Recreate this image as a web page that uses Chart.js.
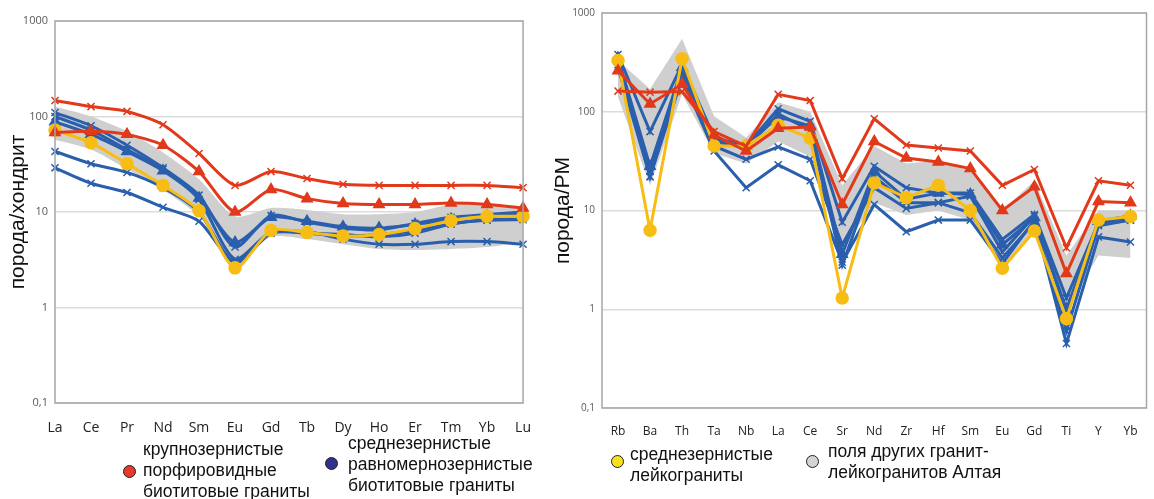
<!DOCTYPE html>
<html>
<head>
<meta charset="utf-8">
<script src="https://cdn.jsdelivr.net/npm/chart.js@4.4.0/dist/chart.umd.min.js"></script>
<style>
  body { margin: 0; background: #fff; width: 1154px; height: 499px; position: relative; overflow: hidden; font-family: "Liberation Sans", Arial, sans-serif; }
  #left { position: absolute; left: 0; top: 0; }
  #right { position: absolute; left: 545px; top: 0; }
  .leg { position: absolute; font-size: 17.5px; line-height: 21px; color: #111; white-space: nowrap; }
  .dot { position: absolute; width: 11px; height: 11px; border-radius: 50%; border: 1.5px solid #222; }
</style>
</head>
<body>
<canvas id="left" width="540" height="440"></canvas>
<canvas id="right" width="609" height="440"></canvas>

<span class="dot" style="left:123px;top:465px;background:#e8392a"></span>
<div class="leg" style="left:143px;top:439px">крупнозернистые<br>порфировидные<br>биотитовые граниты</div>
<span class="dot" style="left:325px;top:457px;background:#2e3192"></span>
<div class="leg" style="left:348px;top:433px">среднезернистые<br>равномернозернистые<br>биотитовые граниты</div>
<span class="dot" style="left:611px;top:455px;background:#f7e01c"></span>
<div class="leg" style="left:630px;top:444px">среднезернистые<br>лейкограниты</div>
<span class="dot" style="left:806px;top:455px;background:#d3d3d3"></span>
<div class="leg" style="left:828px;top:441px">поля других гранит-<br>лейкогранитов Алтая</div>

<script>
var reeLabels = ["La", "Ce", "Pr", "Nd", "Sm", "Eu", "Gd", "Tb", "Dy", "Ho", "Er", "Tm", "Yb", "Lu"];
var pmLabels = ["Rb", "Ba", "Th", "Ta", "Nb", "La", "Ce", "Sr", "Nd", "Zr", "Hf", "Sm", "Eu", "Gd", "Ti", "Y", "Yb"];
var yTicks = [0.1, 1, 10, 100, 1000];

// REE / chondrite
var reeRedX = [147, 127, 113, 82, 41, 19, 26.5, 22.4, 19.5, 19, 19, 19, 19, 18];
var reeRedTri = [68, 70, 65, 50, 26.5, 10, 17.2, 13.8, 12.3, 12, 12, 12.4, 12, 11];
var reeBlue1 = [110, 80, 50, 29, 15, 4.3, 9.2, 7.8, 6.8, 6.5, 7.6, 8.8, 9.4, 10];
var reeBlue2 = [88, 65, 43, 27, 14, 4.8, 8.8, 8, 7, 6.8, 7.4, 8.4, 9, 9.5];
var reeBlue3 = [100, 72, 45, 28, 13.5, 3.2, 6.2, 6, 5.8, 5.5, 6, 7.5, 8.2, 8.3];
var reeBlue4 = [43, 32, 26, 18, 10, 2.9, 6, 6, 5.6, 5.8, 6.4, 7.5, 8.3, 8.5];
var reeBlue5 = [29, 20, 16, 11.2, 8, 3, 6, 6.2, 5.2, 4.6, 4.6, 4.9, 4.9, 4.6];
var reeYellow = [72, 53, 32, 19, 10.3, 2.6, 6.4, 6.1, 5.6, 5.8, 6.7, 8.1, 9, 9];
var reeFieldHi = [127, 100, 70, 42, 22, 9, 11, 10.5, 9.5, 9.5, 10, 12, 12, 11.5];
var reeFieldLo = [57, 45, 28, 17, 9, 2.9, 5.5, 5.2, 4.6, 4.1, 4, 4.1, 4.3, 4.8];

// multi-element / primitive mantle
var pmRedX = [162, 158, 160, 63, 45, 150, 130, 21, 85, 46, 43, 40, 18, 26, 4.2, 20, 18];
var pmRedTri = [260, 120, 190, 58, 40, 68, 70, 11.5, 50, 34, 31, 26.6, 10, 17.4, 2.3, 12.3, 12];
var pmBlue1 = [380, 63, 300, 55, 45, 107, 80, 7.6, 28, 17, 15, 15, 5.1, 9.1, 1.3, 7.5, 8.5];
var pmBlue2 = [350, 28, 280, 52, 45, 89, 72, 3.6, 25, 13, 15, 14.5, 4.5, 8.5, 1.0, 7.8, 8.8];
var pmBlue3 = [330, 22, 260, 50, 43, 95, 65, 2.8, 22, 12, 12, 14, 3.8, 8.8, 0.9, 7.2, 8];
var pmBlue4 = [300, 25, 220, 45, 33, 44, 33, 4.5, 17, 10.5, 12, 9.5, 3.3, 7.6, 0.6, 7, 8];
var pmBlue5 = [280, 22, 220, 40, 17, 29, 20, 3, 11.5, 6.1, 8, 8, 2.9, 8, 0.45, 5.4, 4.8];
var pmYellow = [330, 6.3, 345, 45, 45, 73, 54, 1.3, 19, 13.5, 18, 10, 2.6, 6.2, 0.8, 8, 8.7];
var pmFieldHi = [330, 170, 550, 90, 55, 125, 100, 18, 45, 30, 32, 25, 10, 20, 3.5, 10, 10];
var pmFieldLo = [140, 18, 150, 38, 30, 50, 35, 4, 12, 9, 10, 8, 2.6, 6, 1.0, 3.5, 3.3];

var RED = "#e2391b";
var BLUE = "#2a5fad";
var YELLOW = "#f7bd14";
var GREY = "#cfcfcf";

function line(data, color, style, order, tension) {
  return {
    data: data,
    borderColor: color,
    backgroundColor: color,
    borderWidth: 3,
    pointStyle: style,
    pointRadius: style == "crossRot" ? 5 : 6,
    pointBorderWidth: 1.5,
    pointBackgroundColor: color,
    pointBorderColor: color,
    fill: false,
    tension: tension,
    order: order,
  };
}

function field(hi, lo, tension) {
  return [
    { data: hi, borderWidth: 0, pointRadius: 0, backgroundColor: GREY, fill: "+1", tension: tension, order: 10 },
    { data: lo, borderWidth: 0, pointRadius: 0, backgroundColor: GREY, fill: false, tension: tension, order: 10 },
  ];
}

var boxPlugin = {
  id: "box",
  afterDraw: function (chart) {
    var a = chart.chartArea;
    var ctx = chart.ctx;
    ctx.save();
    ctx.strokeStyle = "#a6a6a6";
    ctx.lineWidth = 1.5;
    ctx.strokeRect(a.left, a.top, a.right - a.left, a.bottom - a.top);
    ctx.restore();
  },
};

function makeOptions(opt) {
  return {
    responsive: false,
    animation: false,
    devicePixelRatio: 1,
    layout: { padding: { top: opt.top, right: opt.right, left: 0, bottom: 0 } },
    plugins: { legend: { display: false }, tooltip: { enabled: false } },
    scales: {
      x: {
        type: "category",
        offset: opt.offset,
        grid: { display: false },
        border: { display: false },
        ticks: {
          autoSkip: false,
          maxRotation: 0,
          padding: opt.xPad,
          color: "#222",
          font: { family: "Open Sans", size: opt.xSize },
        },
        afterFit: function (s) { s.height = opt.xH; },
      },
      y: {
        type: "logarithmic",
        min: 0.1,
        max: 1000,
        afterBuildTicks: function (s) {
          s.ticks = yTicks.map(function (v) { return { value: v }; });
        },
        grid: { color: "#dcdcdc", lineWidth: 1.5, drawTicks: false },
        border: { display: false },
        ticks: {
          padding: 7,
          color: "#595959",
          font: { family: "Open Sans", size: opt.ySize },
          callback: function (v) { return String(v).replace(".", ","); },
        },
        title: {
          display: true,
          text: opt.title,
          color: "#111",
          font: { family: "Liberation Sans", size: 21 },
          padding: { top: opt.titlePad, bottom: 0 },
        },
        afterFit: function (s) { s.width = opt.yW; },
      },
    },
  };
}

var t1 = 0.25;
new Chart(document.getElementById("left"), {
  type: "line",
  data: {
    labels: reeLabels,
    datasets: field(reeFieldHi, reeFieldLo, t1).concat([
      line(reeBlue5, BLUE, "crossRot", 4, t1),
      line(reeBlue4, BLUE, "crossRot", 4, t1),
      line(reeBlue3, BLUE, "crossRot", 4, t1),
      line(reeBlue1, BLUE, "crossRot", 4, t1),
      line(reeBlue2, BLUE, "triangle", 3, t1),
      line(reeYellow, YELLOW, "circle", 2, t1),
      line(reeRedTri, RED, "triangle", 1, t1),
      line(reeRedX, RED, "crossRot", 1, t1),
    ]),
  },
  options: makeOptions({ top: 21, right: 12, offset: false, xSize: 14, ySize: 11, xH: 37, xPad: 9, yW: 55, title: "порода/хондрит", titlePad: 6 }),
  plugins: [boxPlugin],
});

new Chart(document.getElementById("right"), {
  type: "line",
  data: {
    labels: pmLabels,
    datasets: field(pmFieldHi, pmFieldLo, 0).concat([
      line(pmBlue5, BLUE, "crossRot", 4, 0),
      line(pmBlue4, BLUE, "crossRot", 4, 0),
      line(pmBlue3, BLUE, "crossRot", 4, 0),
      line(pmBlue1, BLUE, "crossRot", 4, 0),
      line(pmBlue2, BLUE, "triangle", 3, 0),
      line(pmYellow, YELLOW, "circle", 2, 0),
      line(pmRedTri, RED, "triangle", 1, 0),
      line(pmRedX, RED, "crossRot", 1, 0),
    ]),
  },
  options: makeOptions({ top: 8, right: 1, offset: true, xSize: 12, ySize: 10, xH: 32, xPad: 8, yW: 57, title: "порода/PM", titlePad: 6 }),
  plugins: [boxPlugin],
});
</script>
</body>
</html>
